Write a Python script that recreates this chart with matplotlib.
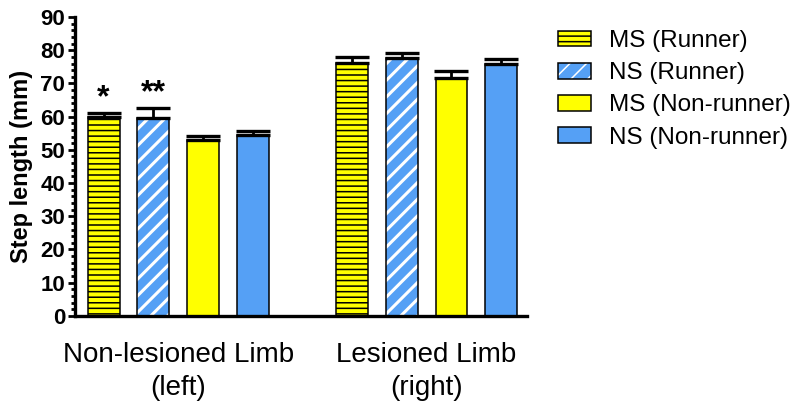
import matplotlib
matplotlib.use("Agg")
import matplotlib.pyplot as plt
from matplotlib.patches import Patch
from matplotlib.legend_handler import HandlerTuple
from matplotlib.ticker import MultipleLocator
import numpy as np

plt.rcParams['font.family'] = ['Liberation Sans', 'DejaVu Sans']

groups = ["Non-lesioned Limb\n(left)", "Lesioned Limb\n(right)"]
series = ["MS (Runner)", "NS (Runner)", "MS (Non-runner)", "NS (Non-runner)"]
ms_runner = [60.0, 76.2]
ns_runner = [59.7, 77.8]
ms_nonrunner = [53.1, 71.6]
ns_nonrunner = [54.6, 75.9]
err_ms_runner = [1.1, 1.8]
err_ns_runner = [2.8, 1.4]
err_ms_nonrunner = [1.0, 2.0]
err_ns_nonrunner = [1.1, 1.5]
stars = ["*", "**"]
star_y = [65.5, 67.0]

yellow = "#FFFF00"
blue = "#55A0F5"

values = [ms_runner, ns_runner, ms_nonrunner, ns_nonrunner]
errors = [err_ms_runner, err_ns_runner, err_ms_nonrunner, err_ns_nonrunner]

fig = plt.figure(figsize=(7.96, 4.05), dpi=100)
ax = fig.add_axes([0.094, 0.22, 0.568, 0.738])

width = 0.64
group_pos = np.array([0, 5])
plt.rcParams['hatch.linewidth'] = 1.1

handles = []
for i, (vals, errs) in enumerate(zip(values, errors)):
    x = group_pos + i
    if i == 0:
        ax.bar(x, vals, width, color=yellow, edgecolor='black', linewidth=1.1,
               hatch='---', zorder=2)
        h = Patch(facecolor=yellow, edgecolor='black', linewidth=1.1, hatch='---')
    elif i == 1:
        b1 = ax.bar(x, vals, width, color=blue, edgecolor='white', linewidth=0,
                    hatch='//', zorder=2)
        for p in b1:
            if hasattr(p, 'set_hatch_linewidth'):
                p.set_hatch_linewidth(2.2)
        ax.bar(x, vals, width, fill=False, edgecolor='black', linewidth=1.1, zorder=3)
        h1 = Patch(facecolor=blue, edgecolor='white', linewidth=0, hatch='//')
        if hasattr(h1, 'set_hatch_linewidth'):
            h1.set_hatch_linewidth(2.2)
        h2 = Patch(fill=False, edgecolor='black', linewidth=1.1)
        h = (h1, h2)
    else:
        col = yellow if i == 2 else blue
        ax.bar(x, vals, width, color=col, edgecolor='black', linewidth=1.1, zorder=2)
        h = Patch(facecolor=col, edgecolor='black', linewidth=1.1)
    handles.append(h)
    ax.errorbar(x, vals, yerr=[np.zeros(len(vals)), errs], fmt='none', ecolor='black',
                elinewidth=2, capsize=12, capthick=2.4, zorder=4)

for i, (s, sy) in enumerate(zip(stars, star_y)):
    ax.text(group_pos[0] + i, sy, s, ha='center', va='center', fontsize=23,
            fontweight='bold')

ax.set_xlim(-0.58, 8.52)
ax.set_ylim(0, 90)
ax.yaxis.set_major_locator(MultipleLocator(10))
ax.yaxis.set_minor_locator(MultipleLocator(2))
ax.set_xticks(group_pos + 1.5)
ax.set_xticklabels(groups, fontsize=20, linespacing=1.32)
ax.tick_params(axis='x', length=0, pad=19)
ax.tick_params(axis='y', which='major', length=5, width=2, labelsize=16, pad=2)
ax.tick_params(axis='y', which='minor', length=3, width=2)
for lab in ax.get_yticklabels():
    lab.set_fontweight('bold')
ax.set_ylabel("Step length (mm)", fontsize=17, fontweight='bold', labelpad=5)
for sp in ['top', 'right']:
    ax.spines[sp].set_visible(False)
for sp in ['left', 'bottom']:
    ax.spines[sp].set_linewidth(2.4)

leg = fig.legend(handles, series, loc='upper left', bbox_to_anchor=(0.674, 0.98),
                 frameon=False, fontsize=17.5, handlelength=1.36, handleheight=0.62,
                 handletextpad=0.74, labelspacing=0.42,
                 handler_map={tuple: HandlerTuple(ndivide=1)})

fig.savefig("out.png", dpi=100)
